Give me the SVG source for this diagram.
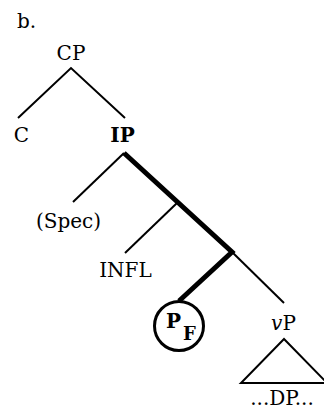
<svg xmlns="http://www.w3.org/2000/svg" width="324" height="409" viewBox="0 0 324 409">
  <style>
    text { font-family: "DejaVu Serif", "Liberation Serif", serif; font-size: 20px; fill: #000; }
    .mid { text-anchor: middle; }
    .bold { font-weight: bold; }
    .edge { stroke: #000; stroke-width: 2; fill: none; stroke-linecap: butt; }
    .path { stroke: #000; stroke-width: 5; fill: none; stroke-linecap: butt; }
  </style>
  <rect width="324" height="409" fill="#fff"/>

  <text x="17" y="28">b.</text>

  <!-- tree branches -->
  <g id="connectors">
    <polyline class="edge" points="18,118 71,68 125,118"/>
    <line class="edge" x1="124" y1="153" x2="73" y2="202"/>
    <line class="edge" x1="177" y1="203" x2="125" y2="253"/>
    <line class="edge" x1="231" y1="251" x2="284" y2="303"/>
    <!-- highlighted path IP down to the circled head -->
    <polyline class="path" points="124,153 232,252 179,301" stroke-linejoin="miter"/>
  </g>

  <g id="CP"><text class="mid" x="71" y="60">CP</text></g>
  <g id="C"><text class="mid" x="21.5" y="142">C</text></g>
  <g id="IP"><text class="mid bold" x="122.5" y="142">IP</text></g>
  <g id="Spec"><text class="mid" x="68.5" y="228">(Spec)</text></g>
  <g id="INFL"><text class="mid" x="125.5" y="277">INFL</text></g>
  <g id="PF">
    <circle cx="179" cy="326" r="24.5" fill="none" stroke="#000" stroke-width="3"/>
    <text class="bold" x="166" y="328">P<tspan font-size="18" x="183" y="340">F</tspan></text>
  </g>
  <g id="vP"><text class="mid" x="283.5" y="330"><tspan font-style="italic">v</tspan>P</text></g>
  <g id="DP">
    <polygon points="284,339 241,383 327,383" fill="none" stroke="#000" stroke-width="2"/>
    <text class="mid" x="282" y="405">...DP...</text>
  </g>
</svg>
